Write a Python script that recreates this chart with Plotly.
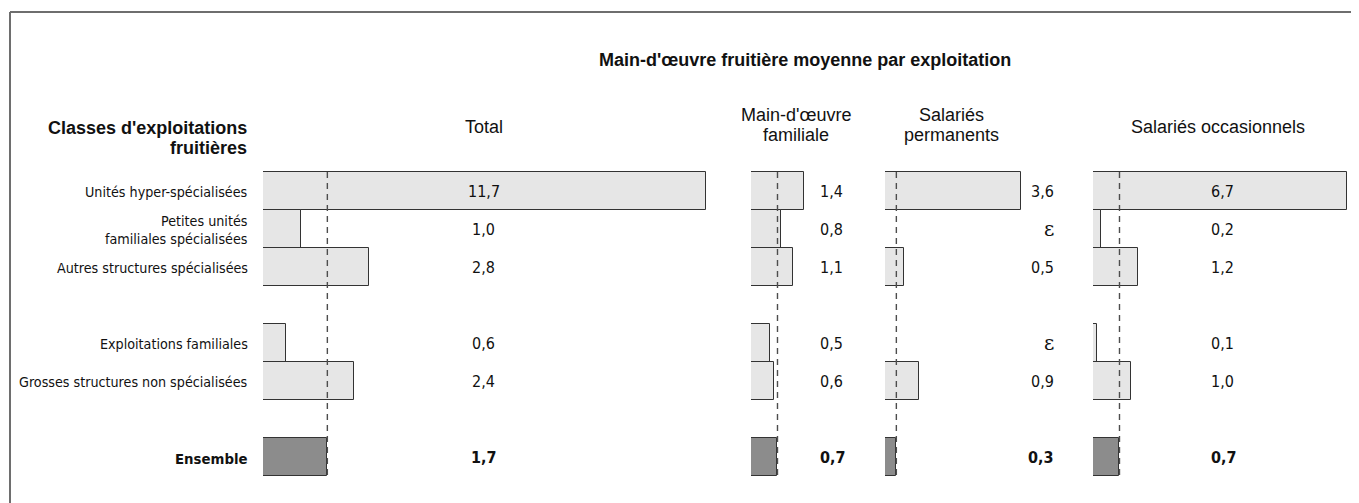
import plotly.graph_objects as go

# ---------------- data ----------------
categories = [
    "Unités hyper-spécialisées",
    "Petites unités<br>familiales spécialisées",
    "Autres structures spécialisées",
    "Exploitations familiales",
    "Grosses structures non spécialisées",
    "Ensemble",
]
EPS = 0.01  # "ε" : negligible value
total = [11.7, 1.0, 2.8, 0.6, 2.4, 1.7]
familiale = [1.4, 0.8, 1.1, 0.5, 0.6, 0.7]
permanents = [3.6, EPS, 0.5, EPS, 0.9, 0.3]
occasionnels = [6.7, 0.2, 1.2, 0.1, 1.0, 0.7]
panel_titles = ["Total", "Main-d'œuvre<br>familiale", "Salariés<br>permanents", "Salariés occasionnels"]
chart_title = "Main-d'œuvre fruitière moyenne par exploitation"
left_header = "Classes d'exploitations<br>fruitières"

# ---------------- layout constants ----------------
W, H = 1359, 503
OFF = 8                         # page (body) margin offset
PX = 37.85                      # pixels per unit on every panel
ROW_SLOTS = [0, 1, 2, 4, 5, 7]  # vertical slots (gaps between groups)
ROW0, ROWH = 191, 38            # screen pixel centre of slot 0, slot height
panels = [  # (x start px, x end px, label x px, label anchor)
    (263, 720, 484, "center"),
    (751, 870, 818, "left"),
    (885, 1075, 1056, "right"),
    (1093, 1359, 1209, "left"),
]
header_pos = [(484, 127), (796, 125), (952, 125), (1218, 127)]
series = [total, familiale, permanents, occasionnels]

LIGHT = "#e6e6e6"
DARK = "#8c8c8c"
EDGE = "#333333"
NARROW = "DejaVu Sans Condensed, Liberation Sans Narrow, sans-serif"
SANS = "Liberation Sans, Arial, sans-serif"
INK = "#111111"


def px_x(p):
    return (p - OFF) / W


def px_y(p):
    return 1 - (p - OFF) / H


def fmt(v):
    if v == EPS:
        return "ε"
    return f"{v:.1f}".replace(".", ",")


def multiline(text, x, yc, spacing, font, xanchor, bold=False):
    lines = text.split("<br>")
    n = len(lines)
    out = []
    for j, ln in enumerate(lines):
        y = yc + (j - (n - 1) / 2) * spacing
        out.append(dict(
            x=px_x(x), y=px_y(y), xref="paper", yref="paper",
            text=f"<b>{ln}</b>" if bold else ln, showarrow=False,
            xanchor=xanchor, yanchor="middle", font=font,
        ))
    return out


fig = go.Figure()
annotations = []

for i, (vals, (x0, x1, lx, lanchor)) in enumerate(zip(series, panels)):
    ax = "x" if i == 0 else f"x{i+1}"
    colors = [DARK if c == "Ensemble" else LIGHT for c in categories]
    fig.add_trace(go.Bar(
        x=vals, y=ROW_SLOTS, base=0, orientation="h", width=1,
        marker=dict(color=colors, line=dict(color=EDGE, width=1)),
        xaxis=ax, yaxis="y", showlegend=False, hoverinfo="skip",
    ))
    ens = vals[categories.index("Ensemble")]
    fig.add_trace(go.Scatter(
        x=[ens, ens], y=[ROW_SLOTS[0] - 0.5, ROW_SLOTS[-1] + 0.5],
        mode="lines", line=dict(color="#4d4d4d", width=1.4, dash="6px,5px"),
        xaxis=ax, yaxis="y", showlegend=False, hoverinfo="skip",
    ))
    axis_key = "xaxis" if i == 0 else f"xaxis{i+1}"
    fig.layout[axis_key] = dict(
        domain=[px_x(x0), min(1, px_x(x1))], range=[0, (min(x1, W + OFF) - x0) / PX],
        visible=False, anchor="y", fixedrange=True,
    )
    # value labels
    for c, v, s in zip(categories, vals, ROW_SLOTS):
        txt = fmt(v)
        is_eps = v == EPS
        bold = c == "Ensemble"
        annotations.append(dict(
            x=px_x(lx), xref="paper", y=s, yref="y",
            text=f"<b>{txt}</b>" if bold else txt,
            xanchor=lanchor, yanchor="middle", showarrow=False,
            font=dict(family="DejaVu Serif, serif" if is_eps else NARROW,
                      size=20 if is_eps else 16, color=INK),
        ))
    # panel header
    hx, hy = header_pos[i]
    annotations += multiline(panel_titles[i], hx, hy, 20,
                             dict(family=SANS, size=18, color=INK), "center")

# row labels
for c, s in zip(categories, ROW_SLOTS):
    bold = c == "Ensemble"
    yc = ROW0 + s * ROWH + 1
    annotations += multiline(c, 250, yc, 18,
                             dict(family=NARROW, size=14.2 if not bold else 14.8, color=INK),
                             "right", bold=bold)

# left header & title
annotations += multiline(left_header, 249, 138, 20,
                         dict(family=SANS, size=18, color=INK), "right", bold=True)
annotations += multiline(chart_title, 805, 60, 20,
                         dict(family=SANS, size=18, color=INK), "center", bold=True)

frame = [
    dict(type="line", xref="paper", yref="paper", x0=px_x(10), x1=1, y0=px_y(12), y1=px_y(12),
         line=dict(color="#6e6e6e", width=2)),
    dict(type="line", xref="paper", yref="paper", x0=px_x(10), x1=px_x(10), y0=px_y(12), y1=0,
         line=dict(color="#6e6e6e", width=2)),
]

fig.update_layout(
    width=W, height=H, margin=dict(l=0, r=0, t=0, b=0),
    paper_bgcolor="white", plot_bgcolor="rgba(0,0,0,0)",
    yaxis=dict(domain=[0, 1],
               range=[(H + OFF - ROW0) / ROWH, (OFF - ROW0) / ROWH],
               visible=False, fixedrange=True),
    annotations=annotations, shapes=frame, bargap=0,
)

fig.write_html("out.html")
